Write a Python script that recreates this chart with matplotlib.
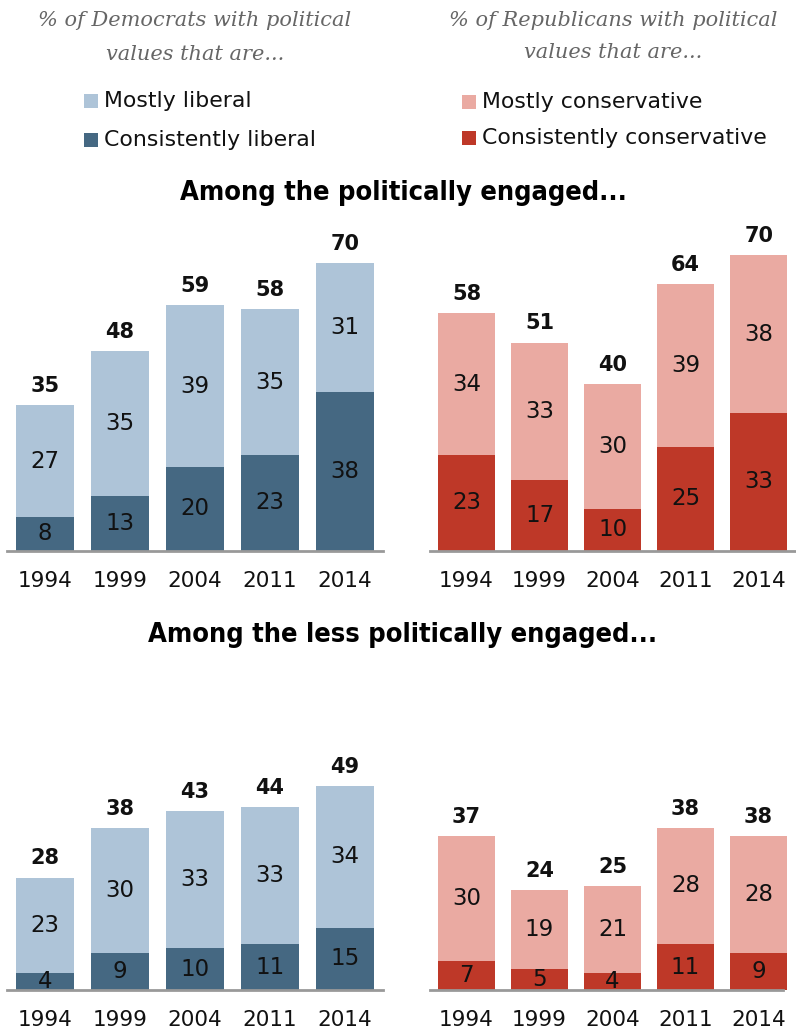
import matplotlib
matplotlib.use("Agg")
import matplotlib.pyplot as plt
import numpy as np
from matplotlib.patches import Rectangle

years = ["1994", "1999", "2004", "2011", "2014"]

dem_eng_consistent = [8, 13, 20, 23, 38]
dem_eng_mostly = [27, 35, 39, 35, 31]
dem_eng_total = [35, 48, 59, 58, 70]

rep_eng_consistent = [23, 17, 10, 25, 33]
rep_eng_mostly = [34, 33, 30, 39, 38]
rep_eng_total = [58, 51, 40, 64, 70]

dem_less_consistent = [4, 9, 10, 11, 15]
dem_less_mostly = [23, 30, 33, 33, 34]
dem_less_total = [28, 38, 43, 44, 49]

rep_less_consistent = [7, 5, 4, 11, 9]
rep_less_mostly = [30, 19, 21, 28, 28]
rep_less_total = [37, 24, 25, 38, 38]

DEM_LIGHT = "#AEC4D8"
DEM_DARK = "#456882"
REP_LIGHT = "#EAAAA2"
REP_DARK = "#BE3828"

W, H = 796, 1032
fig = plt.figure(figsize=(W / 100, H / 100), dpi=100)
plt.rcParams['font.family'] = ['DejaVu Sans']

PX_PER_UNIT = 4.16
YMAX = 77


def make_ax(x0, x1, baseline):
    h = YMAX * PX_PER_UNIT
    return fig.add_axes([x0 / W, (H - baseline) / H, (x1 - x0) / W, h / H])


def draw(ax, cons, most, total, light, dark, xlim, width):
    x = np.arange(len(years))
    ax.bar(x, cons, width=width, color=dark, edgecolor='none', clip_on=False)
    ax.bar(x, most, width=width, bottom=cons, color=light, edgecolor='none', clip_on=False)
    for xi, c, m, t in zip(x, cons, most, total):
        ax.text(xi, c / 2, str(c), ha='center', va='center', fontsize=16.5, color='#111111')
        ax.text(xi, c + m / 2, str(m), ha='center', va='center', fontsize=16.5, color='#111111')
        ax.annotate(str(t), (xi, c + m), xytext=(0, 9.5), textcoords='offset points',
                    ha='center', va='baseline', fontsize=15, fontweight='bold', color='#111111')
    ax.set_xlim(*xlim)
    ax.set_ylim(0, YMAX)
    ax.set_xticks(x)
    ax.set_xticklabels(years, fontsize=15.5, color='#111111')
    ax.tick_params(axis='x', length=0, pad=14.5)
    ax.set_yticks([])
    for s in ['top', 'left', 'right']:
        ax.spines[s].set_visible(False)
    ax.spines['bottom'].set_color('#999999')
    ax.spines['bottom'].set_linewidth(2)
    ax.spines['bottom'].set_zorder(3)
    ax.set_facecolor('none')


left_xlim = (-0.507, 4.507)
right_top_xlim = (-0.5, 4.51)
right_bot_xlim = (-0.5, 4.336)

ax1 = make_ax(7, 383, 550.5)
draw(ax1, dem_eng_consistent, dem_eng_mostly, dem_eng_total, DEM_LIGHT, DEM_DARK, left_xlim, 0.773)
ax2 = make_ax(430, 796, 550.5)
draw(ax2, rep_eng_consistent, rep_eng_mostly, rep_eng_total, REP_LIGHT, REP_DARK, right_top_xlim, 0.78)
ax3 = make_ax(7, 383, 990)
draw(ax3, dem_less_consistent, dem_less_mostly, dem_less_total, DEM_LIGHT, DEM_DARK, left_xlim, 0.773)
ax4 = make_ax(430, 783, 990)
draw(ax4, rep_less_consistent, rep_less_mostly, rep_less_total, REP_LIGHT, REP_DARK, right_bot_xlim, 0.78)


def ftext(x, y, s, **kw):
    fig.text(x / W, 1 - y / H, s, **kw)


hdr = dict(fontsize=15, style='italic', family='DejaVu Serif', color='#666666', ha='center', va='center')
ftext(195, 20, "% of Democrats with political", **hdr)
ftext(195, 54, "values that are...", **hdr)
ftext(613, 20, "% of Republicans with political", **hdr)
ftext(613, 53, "values that are...", **hdr)

legend_items = [
    (84, 101, DEM_LIGHT, "Mostly liberal"),
    (84, 140, DEM_DARK, "Consistently liberal"),
    (462, 102, REP_LIGHT, "Mostly conservative"),
    (462, 138, REP_DARK, "Consistently conservative"),
]
for x, y, col, lab in legend_items:
    fig.patches.append(Rectangle((x / W, 1 - (y + 7) / H), 14 / W, 14 / H,
                                 transform=fig.transFigure, facecolor=col, edgecolor='none'))
    ftext(x + 20, y, lab, fontsize=15.8, color='#111111', ha='left', va='center')

ttl = dict(fontsize=19.5, fontweight='bold', fontstretch='condensed', color='#000000', ha='center', va='center')
ftext(403, 193, "Among the politically engaged...", **ttl)
ftext(403, 635, "Among the less politically engaged...", **ttl)

fig.savefig("out.png", dpi=100)
